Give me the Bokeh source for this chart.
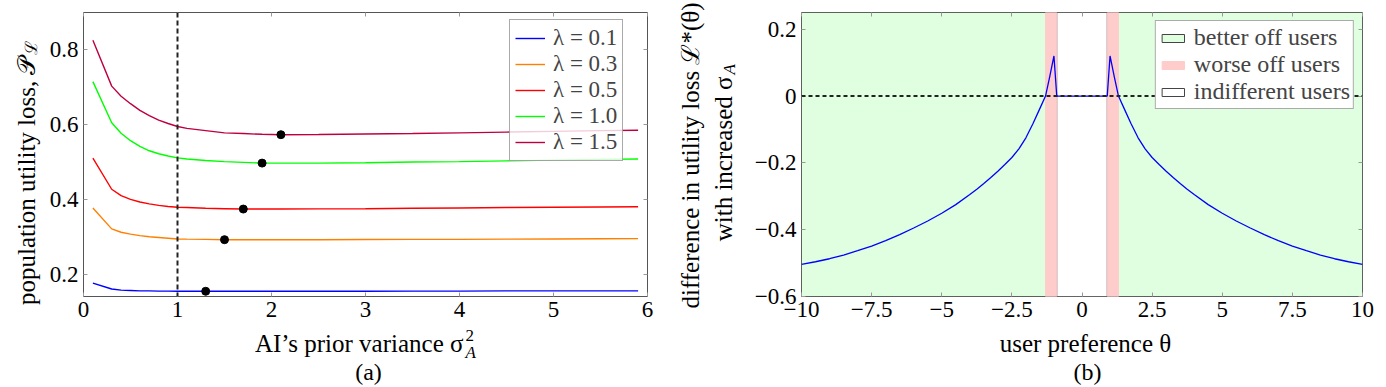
import math
from bokeh.plotting import figure
from bokeh.models import (Range1d, Legend, LegendItem, Span, LinearAxis,
                          FixedTicker, GridBox)
from bokeh.layouts import row, column
from bokeh.core.properties import value
from bokeh.embed import file_html
from bokeh.resources import INLINE

FONT = "Liberation Serif"

# ---------------- panel (a) data ----------------
sigma2 = [0.1, 0.3, 0.4, 0.5, 0.6, 0.7, 0.8, 0.9, 1.0, 1.1, 1.3, 1.5, 1.7, 1.9, 2.1,
          2.5, 3.0, 3.5, 4.0, 4.5, 5.0, 5.5, 5.9]
lambda_labels = ["λ = 0.1", "λ = 0.3", "λ = 0.5", "λ = 1.0", "λ = 1.5"]
loss_lam01 = [0.176, 0.160, 0.157, 0.156, 0.155, 0.155, 0.1545, 0.1545, 0.154, 0.154,
              0.154, 0.154, 0.154, 0.154, 0.154, 0.154, 0.154, 0.1545, 0.1545, 0.155,
              0.155, 0.155, 0.155]
loss_lam03 = [0.377, 0.321, 0.312, 0.307, 0.303, 0.300, 0.298, 0.296, 0.294, 0.2935,
              0.293, 0.292, 0.292, 0.292, 0.292, 0.292, 0.2925, 0.293, 0.293, 0.2935,
              0.294, 0.2945, 0.295]
loss_lam05 = [0.510, 0.427, 0.410, 0.400, 0.393, 0.388, 0.384, 0.381, 0.379, 0.378,
              0.376, 0.375, 0.374, 0.374, 0.374, 0.3745, 0.375, 0.376, 0.377, 0.378,
              0.379, 0.3795, 0.380]
loss_lam10 = [0.715, 0.605, 0.577, 0.557, 0.542, 0.530, 0.522, 0.516, 0.511, 0.508,
              0.504, 0.501, 0.499, 0.497, 0.497, 0.497, 0.498, 0.500, 0.501, 0.503,
              0.505, 0.507, 0.508]
loss_lam15 = [0.826, 0.703, 0.676, 0.656, 0.638, 0.624, 0.612, 0.603, 0.595, 0.590,
              0.584, 0.578, 0.576, 0.574, 0.573, 0.5735, 0.575, 0.576, 0.578, 0.580,
              0.582, 0.584, 0.585]
opt_sigma2 = [1.3, 1.5, 1.7, 1.9, 2.1]
opt_loss = [0.154, 0.292, 0.374, 0.497, 0.573]
prior_reference = 1.0
a_xticks = [0, 1, 2, 3, 4, 5, 6]
a_yticks = [0.2, 0.4, 0.6, 0.8]
a_line_colors = ["#0000ff", "#ff8000", "#ff0000", "#00ff00", "#bf0040"]

# ---------------- panel (b) data ----------------
theta = [-10, -9.5, -9, -8.5, -8, -7.5, -7, -6.5, -6, -5.5, -5, -4.5, -4, -3.75, -3.5,
         -3.25, -3, -2.75, -2.5, -2.25, -2, -1.75, -1.5, -1.3, -1.15, -1.0, -0.9, 0,
         0.9, 1.0, 1.15, 1.3, 1.5, 1.75, 2, 2.25, 2.5, 2.75, 3, 3.25, 3.5, 3.75, 4,
         4.5, 5, 5.5, 6, 6.5, 7, 7.5, 8, 8.5, 9, 9.5, 10]
diff_loss = [-0.504, -0.496, -0.487, -0.476, -0.463, -0.449, -0.433, -0.415, -0.395,
             -0.374, -0.351, -0.325, -0.295, -0.279, -0.262, -0.244, -0.225, -0.205,
             -0.184, -0.158, -0.125, -0.083, -0.037, 0.0, 0.058, 0.120, 0.0, 0.0,
             0.0, 0.120, 0.058, 0.0, -0.037, -0.083, -0.125, -0.158, -0.184, -0.205,
             -0.225, -0.244, -0.262, -0.279, -0.295, -0.325, -0.351, -0.374, -0.395,
             -0.415, -0.433, -0.449, -0.463, -0.476, -0.487, -0.496, -0.504]
better_left, better_right = [-10], [10]
worse_left, worse_right = [-1.3, 0.9], [-0.9, 1.3]
indiff_left, indiff_right = [-0.9], [0.9]
b_xrange = (-10, 10)
b_yrange = (-0.6, 0.25)
b_xticks = [-10, -7.5, -5, -2.5, 0, 2.5, 5, 7.5, 10]
b_xtick_labels = ["−10", "−7.5", "−5", "−2.5", "0", "2.5", "5", "7.5", "10"]
b_yticks = [-0.6, -0.4, -0.2, 0, 0.2]
b_ytick_labels = ["−0.6", "−0.4", "−0.2", "0", "0.2"]

W1, W2, H = 660, 718, 387


def style_axes(p, xt, yt, xover=None, yover=None):
    p.xgrid.visible = False
    p.ygrid.visible = False
    p.outline_line_color = "#555555"
    p.xaxis.ticker = FixedTicker(ticks=xt)
    p.yaxis.ticker = FixedTicker(ticks=yt)
    if xover:
        p.xaxis.major_label_overrides = xover
    if yover:
        p.yaxis.major_label_overrides = yover
    p.add_layout(LinearAxis(ticker=FixedTicker(ticks=xt)), "above")
    p.add_layout(LinearAxis(ticker=FixedTicker(ticks=yt)), "right")
    for ax in p.axis:
        ax.axis_line_color = None
        ax.major_tick_in = 4
        ax.major_tick_out = 0
        ax.minor_tick_line_color = None
        ax.major_tick_line_color = "#999999"
        ax.major_label_text_font = FONT
        ax.major_label_text_font_size = "23px"
        ax.major_label_text_color = "black"
        ax.major_label_standoff = 5
    for ax in p.above + p.right:
        ax.major_label_text_color = None
        ax.major_label_text_font_size = "1px"
        ax.major_label_standoff = 0


# ---------------- panel (a) ----------------
p1 = figure(width=W1, height=H, output_backend="svg", toolbar_location=None,
            x_range=Range1d(0, 6), y_range=Range1d(0.14, 0.9),
            min_border_left=83, min_border_right=13, min_border_top=12,
            min_border_bottom=91)
style_axes(p1, a_xticks, a_yticks)

series = [loss_lam01, loss_lam03, loss_lam05, loss_lam10, loss_lam15]
items = []
for lbl, ys, c in zip(lambda_labels, series, a_line_colors):
    r = p1.line(sigma2, ys, line_color=c, line_width=1.4)
    items.append(LegendItem(label=lbl, renderers=[r]))
p1.scatter(opt_sigma2, opt_loss, size=8, color="black")
p1.add_layout(Span(location=prior_reference, dimension="height", line_color="#222222",
                   line_width=2, line_dash="5 3"))

leg1 = Legend(items=items, location=(426, 135), label_text_font=FONT,
              label_text_font_size="23px", glyph_width=30, glyph_height=26,
              label_height=26, spacing=0, padding=5, margin=0, label_standoff=8,
              border_line_color="#555555", background_fill_alpha=0.8)
p1.add_layout(leg1)

# ---------------- panel (b) ----------------
p2 = figure(width=W2, height=H, output_backend="svg", toolbar_location=None,
            x_range=Range1d(*b_xrange), y_range=Range1d(*b_yrange),
            min_border_left=141, min_border_right=16, min_border_top=12,
            min_border_bottom=91)
style_axes(p2, b_xticks, b_yticks,
           dict(zip(b_xticks, b_xtick_labels)), dict(zip(b_yticks, b_ytick_labels)))

r_better = p2.quad(left=better_left, right=better_right, bottom=[b_yrange[0]],
                   top=[b_yrange[1]], fill_color="#e0ffe0", line_color="#444444",
                   line_width=1)
r_indiff = p2.quad(left=indiff_left, right=indiff_right, bottom=[b_yrange[0]],
                   top=[b_yrange[1]], fill_color="white", line_color="#444444",
                   line_width=1)
r_worse = p2.quad(left=worse_left, right=worse_right, bottom=[b_yrange[0]] * 2,
                  top=[b_yrange[1]] * 2, fill_color="#ffcccc", line_color="#ffcccc",
                  line_width=1)
p2.line(theta, diff_loss, line_color="#0000ff", line_width=1.3)
p2.add_layout(Span(location=0, dimension="width", line_color="#222222",
                   line_width=2, line_dash="4 3"))

leg2 = Legend(items=[LegendItem(label="better off users", renderers=[r_better]),
                     LegendItem(label="worse off users", renderers=[r_worse]),
                     LegendItem(label="indifferent users", renderers=[r_indiff])],
              location="top_right", margin=8, label_text_font=FONT,
              label_text_font_size="24px", glyph_width=28, glyph_height=10,
              label_height=25, spacing=0, padding=3, label_standoff=7,
              border_line_color="#555555", background_fill_alpha=1.0)
p2.add_layout(leg2)

# ---------------- text overlay (axis titles with sub/superscripts) ----------------
ov = figure(width=W1 + W2, height=H, output_backend="svg", toolbar_location=None,
            x_range=Range1d(0, W1 + W2), y_range=Range1d(0, H), min_border=0,
            x_axis_location=None, y_axis_location=None,
            background_fill_color=None, border_fill_color=None,
            outline_line_color=None)
ov.grid.visible = False


def txt(x, y, text, size="25px", angle=0.0, align="center", style="normal"):
    # x, y in page pixels measured from the top-left corner
    ov.text(x=[x], y=[H - y], text=[text], angle=angle, text_align=align,
            text_baseline="middle", text_font=value(FONT),
            text_font_size=value(size), text_font_style=value(style),
            text_color="black")


up = math.pi / 2
txt(26, 56, "population utility loss, 𝒫", angle=up, align="right")
txt(31, 54, "ℒ", size="17px", angle=up, align="left")
txt(463, 343, "AI’s prior variance σ", align="right")
txt(465, 335, "2", size="17px", align="left")
txt(465, 352, "A", size="17px", align="left", style="italic")
txt(368, 371, "(a)", size="24px")

txt(690, 155, "difference in utility loss ℒ*(θ)", angle=up)
txt(723, 76, "with increased σ", angle=up, align="right")
txt(729, 74, "A", size="17px", angle=up, align="left", style="italic")
txt(1085, 343, "user preference θ")
txt(1087, 371, "(b)", size="24px")

grid = GridBox(children=[(row(p1, p2), 0, 0), (column(ov), 0, 0)])
open("out.html", "w").write(file_html(grid, INLINE))
